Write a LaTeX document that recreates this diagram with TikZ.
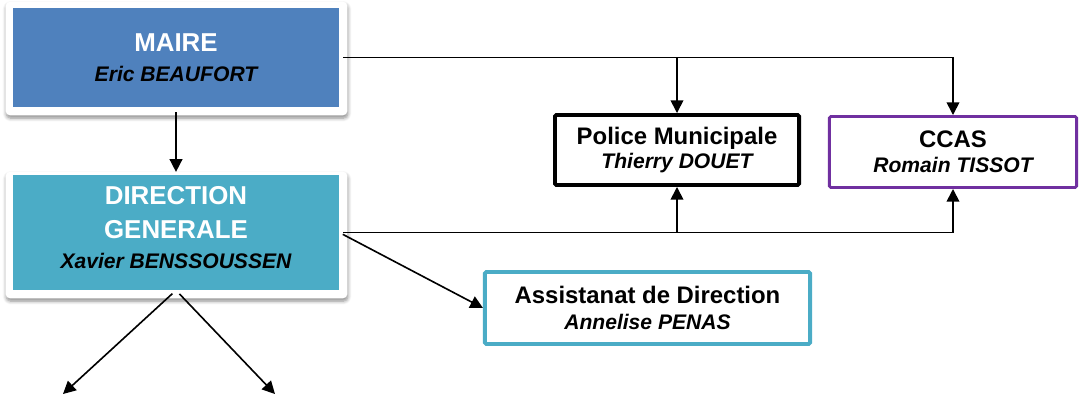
\documentclass[tikz,border=0pt]{standalone}
\usepackage{fontspec}
\setmainfont{Liberation Sans}
\usetikzlibrary{arrows.meta,shadows.blur}
\pgfdeclarelayer{bg}
\pgfsetlayers{bg,main}
\definecolor{maireblue}{HTML}{4F81BD}
\definecolor{dgteal}{HTML}{4BACC6}
\definecolor{ccaspurple}{HTML}{7030A0}
\newcommand{\hdrfont}{\fontsize{18.4pt}{22pt}\selectfont}
\newcommand{\ttlfont}{\fontsize{17pt}{20pt}\selectfont}
\newcommand{\nmfont}{\fontsize{15pt}{18pt}\selectfont\itshape\color{black}}
\begin{document}
\begin{tikzpicture}[x=0.025cm,y=-0.025cm,
  conn/.style={line width=1.15pt, draw=black},
  arr/.style={conn,-{Triangle[length=9pt,width=9pt]}},
  filledbox/.style={minimum width=8.15cm, text=white, align=center, inner sep=0pt},
  outbox/.style={fill=white, align=center, inner sep=0pt, rounded corners=1pt},
  frame/.style={fill=white, rounded corners=3pt,
    blur shadow={shadow xshift=0.4pt, shadow yshift=-2pt, shadow blur radius=2.5pt,
      shadow blur steps=6, shadow opacity=45}}]
\useasboundingbox (0,0) rectangle (1080,395);

\node[filledbox, fill=maireblue, minimum height=2.475cm,
  font=\bfseries\fontsize{15pt}{21.3pt}\selectfont] (maire) at (176,57.5)
  {{\hdrfont MAIRE}\\{\nmfont Eric BEAUFORT}};
\node[filledbox, fill=dgteal, minimum height=2.875cm, text depth=7pt,
  font=\bfseries\fontsize{15pt}{21.3pt}\selectfont] (dg) at (176,232.5)
  {{\hdrfont DIRECTION}\\[2.8pt]{\hdrfont GENERALE}\\{\nmfont Xavier BENSSOUSSEN}};

\node[outbox, draw=black, line width=2.8pt, minimum width=6.1cm, minimum height=1.75cm,
  font=\bfseries\fontsize{15pt}{17.7pt}\selectfont] (police) at (677,150)
  {{\ttlfont Police Municipale}\\{\nmfont Thierry DOUET}};
\node[outbox, draw=ccaspurple, line width=2.1pt, minimum width=6.175cm, minimum height=1.775cm,
  font=\bfseries\fontsize{15pt}{18pt}\selectfont] (ccas) at (953,152)
  {{\ttlfont CCAS}\\{\nmfont Romain TISSOT}};
\node[outbox, draw=dgteal, line width=2.8pt, minimum width=8.125cm, minimum height=1.8cm,
  font=\bfseries\fontsize{15pt}{18.4pt}\selectfont] (assist) at (647.5,308)
  {{\ttlfont Assistanat de Direction}\\{\nmfont Annelise PENAS}};

\begin{pgfonlayer}{bg}
  \fill[frame] ([shift={(-7,-6)}]maire.north west) rectangle ([shift={(8,8)}]maire.south east);
  \fill[frame] ([shift={(-7,-3)}]dg.north west) rectangle ([shift={(8,8)}]dg.south east);
\end{pgfonlayer}

\coordinate (bl) at (63,394);
\coordinate (br) at (275,394);

\draw[arr, shorten <=3.5pt, shorten >=2pt] (maire.south) -- (dg.north);
\draw[arr, shorten <=2.8pt] (maire.east) -| (ccas.north);
\draw[arr] (maire.east -| police.north) -- (police.north);
\draw[arr, shorten <=2.8pt] (dg.east) -| (ccas.south);
\draw[arr] (dg.east -| police.south) -- (police.south);
\draw[arr, shorten <=2.8pt] (dg.east) -- (assist.west);
\draw[arr, shorten <=3.5pt] (dg.south) -- (bl);
\draw[arr, shorten <=3.5pt] (dg.south) -- (br);
\end{tikzpicture}
\end{document}
